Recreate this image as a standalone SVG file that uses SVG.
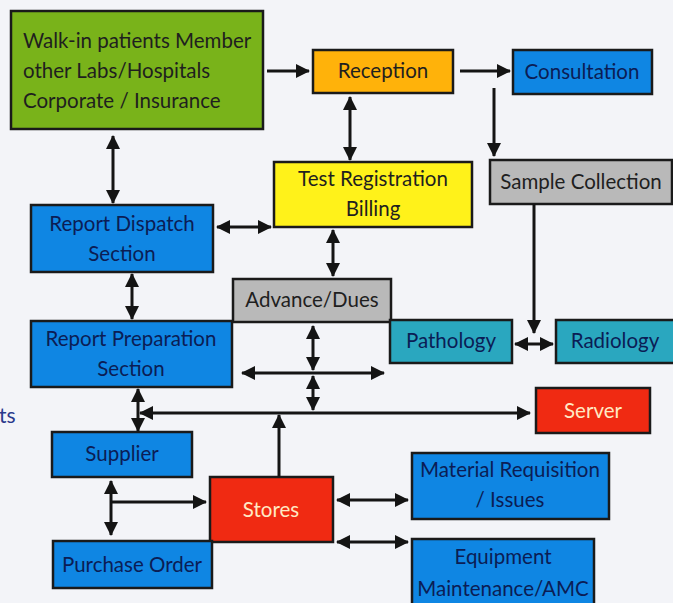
<svg xmlns="http://www.w3.org/2000/svg" width="673" height="603" viewBox="0 0 673 603">
<style>
  .box { stroke: #1a1a1a; stroke-width: 2.5; }
  .t { font-family: Lato, "Open Sans", "Liberation Sans", sans-serif; font-size: 20.5px; text-anchor: middle; }
  .dark { fill: #1f1f1f; }
  .navy { fill: #0b1d55; }
  .light { fill: #ffe9c4; }
  .green { fill: #79b31a; }
  .orange { fill: #ffb20a; }
  .blue { fill: #0f86e3; }
  .teal { fill: #2aa7bf; }
  .gray { fill: #b9b9b9; }
  .yellow { fill: #fff21a; }
  .red { fill: #f02a12; }
  .conn path { fill: none; stroke: #141414; stroke-width: 3; }
  .a { marker-end: url(#ah); }
  .b { marker-start: url(#ah); marker-end: url(#ah); }
</style>
<defs>
  <marker id="ah" markerUnits="userSpaceOnUse" markerWidth="14" markerHeight="14" refX="13" refY="7" orient="auto-start-reverse">
    <path d="M0,0 L14,7 L0,14 z" fill="#141414"/>
  </marker>
</defs>
<rect width="673" height="603" fill="#f3f4f8"/>
<text x="-1" y="423" style="font-family: Lato, 'Liberation Sans', sans-serif; font-size: 21px; fill: #2a3a8c;">ts</text>

<g id="walkin">
  <rect class="box green" x="11" y="11" width="252" height="118"/>
  <text class="t dark" x="23" y="48" style="text-anchor:start">Walk-in patients Member</text>
  <text class="t dark" x="23" y="78" style="text-anchor:start">other Labs/Hospitals</text>
  <text class="t dark" x="23" y="108" style="text-anchor:start">Corporate / Insurance</text>
</g>
<g id="reception">
  <rect class="box orange" x="313" y="50" width="140" height="43"/>
  <text class="t dark" x="383" y="78">Reception</text>
</g>
<g id="consultation">
  <rect class="box blue" x="513" y="50" width="139" height="44"/>
  <text class="t navy" x="582" y="79">Consultation</text>
</g>
<g id="testreg">
  <rect class="box yellow" x="274" y="162" width="198" height="65"/>
  <text class="t dark" x="373" y="186">Test Registration</text>
  <text class="t dark" x="373" y="216">Billing</text>
</g>
<g id="sample">
  <rect class="box gray" x="490" y="160" width="182" height="44"/>
  <text class="t dark" x="581" y="189">Sample Collection</text>
</g>
<g id="dispatch">
  <rect class="box blue" x="31" y="205" width="182" height="67"/>
  <text class="t navy" x="122" y="231">Report Dispatch</text>
  <text class="t navy" x="122" y="261">Section</text>
</g>
<g id="advance">
  <rect class="box gray" x="233" y="279" width="158" height="43"/>
  <text class="t dark" x="312" y="307">Advance/Dues</text>
</g>
<g id="prep">
  <rect class="box blue" x="31" y="321" width="201" height="66"/>
  <text class="t navy" x="131" y="346">Report Preparation</text>
  <text class="t navy" x="131" y="376">Section</text>
</g>
<g id="pathology">
  <rect class="box teal" x="390" y="320" width="122" height="43"/>
  <text class="t navy" x="451" y="348">Pathology</text>
</g>
<g id="radiology">
  <rect class="box teal" x="556" y="320" width="119" height="43"/>
  <text class="t navy" x="615" y="348">Radiology</text>
</g>
<g id="server">
  <rect class="box red" x="536" y="388" width="114" height="45"/>
  <text class="t light" x="593" y="418">Server</text>
</g>
<g id="supplier">
  <rect class="box blue" x="52" y="432" width="140" height="45"/>
  <text class="t navy" x="122" y="461">Supplier</text>
</g>
<g id="stores">
  <rect class="box red" x="210" y="477" width="123" height="65"/>
  <text class="t light" x="271" y="517">Stores</text>
</g>
<g id="po">
  <rect class="box blue" x="53" y="541" width="159" height="47"/>
  <text class="t navy" x="132" y="572">Purchase Order</text>
</g>
<g id="matreq">
  <rect class="box blue" x="412" y="453" width="197" height="66"/>
  <text class="t navy" x="510" y="477">Material Requisition</text>
  <text class="t navy" x="510" y="507">/ Issues</text>
</g>
<g id="equip">
  <rect class="box blue" x="412" y="539" width="182" height="70"/>
  <text class="t navy" x="503" y="564">Equipment</text>
  <text class="t navy" x="503" y="596">Maintenance/AMC</text>
</g>

<g id="connectors" class="conn">
  <path class="a" d="M267,71 H309"/>
  <path class="a" d="M460,71 H510"/>
  <path class="a" d="M494,88 V156"/>
  <path class="b" d="M350,97 V160"/>
  <path class="b" d="M113,136 V203"/>
  <path class="b" d="M217,227 H271"/>
  <path class="b" d="M333,230 V276"/>
  <path class="b" d="M132,274 V319"/>
  <path class="a" d="M534,204 V333"/>
  <path class="b" d="M515,344 H553"/>
  <path class="b" d="M313,326 V370"/>
  <path class="b" d="M242,373 H384"/>
  <path class="b" d="M313,376 V410"/>
  <path class="b" d="M140,413 H530"/>
  <path class="b" d="M138,389 V431"/>
  <path class="a" d="M279,477 V415"/>
  <path class="b" d="M111,481 V535"/>
  <path class="a" d="M111,502 H206"/>
  <path class="b" d="M337,500 H408"/>
  <path class="b" d="M337,542 H408"/>
</g>
</svg>
